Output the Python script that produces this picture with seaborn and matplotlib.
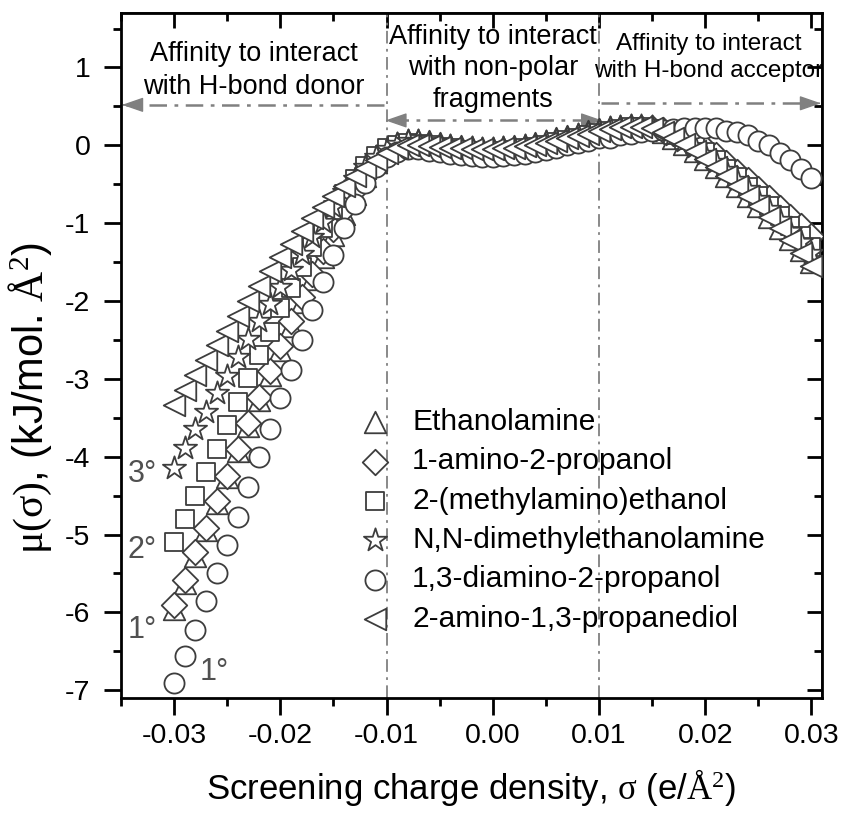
import numpy as np
import pandas as pd
import matplotlib
matplotlib.use("Agg")
import matplotlib.pyplot as plt
import seaborn as sns
from matplotlib import font_manager
from matplotlib.ticker import MultipleLocator, FormatStrFormatter

# screening charge density grid (e/A^2)
sigma = np.round(np.linspace(-0.030, 0.030, 61), 3)

# sigma potentials, kJ/(mol A^2)
ethanolamine = [
    -5.96, -5.62, -5.28, -4.94, -4.60, -4.26, -3.93, -3.60, -3.27, -2.95,
    -2.63, -2.32, -2.01, -1.72, -1.43, -1.15, -0.88, -0.63, -0.40, -0.21,
    -0.07, 0.03, 0.07, 0.07, 0.05, 0.03, 0.01, -0.01, -0.02, -0.03,
    -0.03, -0.02, -0.01, 0.01, 0.03, 0.06, 0.09, 0.12, 0.15, 0.18, 0.21,
    0.23, 0.25, 0.26, 0.25, 0.22, 0.17, 0.10, 0.02, -0.07, -0.17,
    -0.28, -0.40, -0.52, -0.65, -0.78, -0.92, -1.06, -1.20, -1.35, -1.50]
amino_propanol = [
    -5.90, -5.58, -5.23, -4.91, -4.57, -4.25, -3.90, -3.57, -3.23, -2.90,
    -2.58, -2.26, -1.95, -1.65, -1.36, -1.08, -0.82, -0.58, -0.37, -0.20,
    -0.08, -0.02, 0.00, -0.01, -0.03, -0.05, -0.07, -0.09, -0.10, -0.11,
    -0.11, -0.10, -0.09, -0.07, -0.05, -0.02, 0.01, 0.04, 0.07, 0.10, 0.13,
    0.16, 0.19, 0.21, 0.22, 0.22, 0.20, 0.16, 0.11, 0.04, -0.04,
    -0.13, -0.23, -0.34, -0.45, -0.56, -0.68, -0.80, -0.92, -1.04, -1.16]
methylamino_ethanol = [
    -5.10, -4.80, -4.51, -4.20, -3.90, -3.59, -3.30, -2.99, -2.69, -2.40,
    -2.09, -1.83, -1.56, -1.30, -1.06, -0.83, -0.62, -0.43, -0.27, -0.14,
    -0.04, 0.01, 0.03, 0.02, 0.00, -0.02, -0.04, -0.06, -0.07, -0.08,
    -0.08, -0.07, -0.06, -0.04, -0.02, 0.01, 0.04, 0.07, 0.10, 0.13, 0.16,
    0.19, 0.21, 0.23, 0.23, 0.21, 0.18, 0.13, 0.07, 0.00, -0.09,
    -0.19, -0.30, -0.41, -0.53, -0.65, -0.78, -0.91, -1.04, -1.17, -1.30]
dimethylethanolamine = [
    -4.14, -3.89, -3.65, -3.42, -3.18, -2.96, -2.72, -2.49, -2.26, -2.04,
    -1.82, -1.60, -1.39, -1.18, -0.98, -0.79, -0.60, -0.43, -0.28, -0.15,
    -0.05, 0.02, 0.05, 0.05, 0.03, 0.01, -0.01, -0.03, -0.04, -0.05,
    -0.05, -0.04, -0.03, -0.01, 0.01, 0.04, 0.07, 0.10, 0.13, 0.16, 0.19,
    0.22, 0.24, 0.25, 0.25, 0.23, 0.19, 0.13, 0.06, -0.02, -0.11,
    -0.21, -0.32, -0.44, -0.56, -0.69, -0.82, -0.96, -1.10, -1.24, -1.38]
diamino_propanol = [
    -6.91, -6.56, -6.22, -5.86, -5.50, -5.14, -4.77, -4.39, -4.01, -3.64,
    -3.24, -2.88, -2.50, -2.12, -1.75, -1.41, -1.06, -0.75, -0.48, -0.28,
    -0.15, -0.08, -0.05, -0.05, -0.07, -0.09, -0.11, -0.13, -0.14, -0.15,
    -0.15, -0.14, -0.13, -0.11, -0.09, -0.06, -0.03, 0.00, 0.03, 0.06, 0.09,
    0.10, 0.13, 0.15, 0.17, 0.19, 0.20, 0.21, 0.22, 0.22, 0.22,
    0.22, 0.19, 0.17, 0.13, 0.06, 0.00, -0.10, -0.19, -0.30, -0.42]
amino_propanediol = [
    -3.33, -3.14, -2.95, -2.76, -2.57, -2.38, -2.19, -2.00, -1.81, -1.62,
    -1.44, -1.27, -1.10, -0.94, -0.79, -0.65, -0.52, -0.40, -0.29, -0.19,
    -0.10, -0.03, 0.00, 0.00, -0.01, -0.02, -0.03, -0.04, -0.05, -0.05,
    -0.05, -0.04, -0.03, -0.01, 0.01, 0.03, 0.06, 0.09, 0.12, 0.15, 0.18,
    0.21, 0.23, 0.24, 0.24, 0.22, 0.17, 0.10, 0.02, -0.07, -0.17,
    -0.28, -0.40, -0.52, -0.65, -0.78, -0.92, -1.06, -1.21, -1.38, -1.55]

names = ["Ethanolamine", "1-amino-2-propanol", "2-(methylamino)ethanol",
         "N,N-dimethylethanolamine", "1,3-diamino-2-propanol",
         "2-amino-1,3-propanediol"]
values = [ethanolamine, amino_propanol, methylamino_ethanol,
          dimethylethanolamine, diamino_propanol, amino_propanediol]
markers = ["^", "D", "s", "*", "o", "<"]
msizes = [15.5, 13.0, 13.5, 17.5, 14.5, 15.5]   # marker size in points

regions = ["Affinity to interact\nwith H-bond donor",
           "Affinity to interact\nwith non-polar\nfragments",
           "Affinity to interact\nwith H-bond acceptor"]
amine_degree = ["3°", "2°", "1°", "1°"]

sns.set_theme(style="ticks")
avail = {f.name for f in font_manager.fontManager.ttflist}
narrow = "Liberation Sans Narrow" if "Liberation Sans Narrow" in avail else "Liberation Sans"
plt.rcParams["font.family"] = [narrow, "DejaVu Sans"]
plt.rcParams["axes.unicode_minus"] = False
plt.rcParams["mathtext.fontset"] = "custom"
plt.rcParams["mathtext.rm"] = "Liberation Serif"
plt.rcParams["mathtext.it"] = "Liberation Serif:italic"
for key in ("text.color", "axes.labelcolor", "xtick.color", "ytick.color",
            "xtick.labelcolor", "ytick.labelcolor"):
    plt.rcParams[key] = "black"

fig, ax = plt.subplots(figsize=(8.47, 8.16), dpi=100)
fig.subplots_adjust(left=121 / 847, right=822 / 847, bottom=1 - 698 / 816, top=1 - 13 / 816)

edge = "#3d3d3d"
for name, vals, m, ms in zip(names, values, markers, msizes):
    df = pd.DataFrame({"sigma": sigma, "mu": vals})
    sns.scatterplot(data=df, x="sigma", y="mu", marker=m, s=ms ** 2,
                    color="white", edgecolor=edge, linewidth=1.3,
                    label=name, ax=ax, zorder=3, legend=True)

ax.set_xlim(-0.035, 0.031)
ax.set_ylim(-7.1, 1.7)

gray = "#808080"
dashdot = (0, (7, 3, 1.5, 3))
for xv in (-0.01, 0.01):
    ax.axvline(xv, color=gray, lw=1.3, ls=dashdot, zorder=1)

# region arrows
def arrow_line(x0, x1, y, heads):
    ax.plot([x0, x1], [y, y], color=gray, lw=1.8, ls=dashdot, zorder=2)
    for tip, back in heads:
        ax.annotate("", xy=(tip, y), xytext=(back, y),
                    arrowprops=dict(arrowstyle="-|>,head_length=1.1,head_width=0.38",
                                    color=gray, lw=1, shrinkA=0, shrinkB=0),
                    zorder=2)

arrow_line(-0.0102, -0.0345, 0.52, [(-0.0349, -0.0347)])
arrow_line(0.0102, 0.0305, 0.54, [(0.0309, 0.0307)])
arrow_line(-0.0096, 0.0096, 0.32, [(-0.0101, -0.0099), (0.0103, 0.0101)])

ax.text(-0.02248, 0.96, regions[0], ha="center", va="center", fontsize=19.5, linespacing=1.35)
ax.text(0.0000, 0.99, regions[1], ha="center", va="center", fontsize=19.5, linespacing=1.27)
ax.text(0.0203, 1.13, regions[2], ha="center", va="center", fontsize=17.5, linespacing=1.3)

deg_pos = [(-0.0330, -4.22), (-0.0330, -5.20), (-0.0330, -6.22), (-0.0262, -6.76)]
for t, (xp, yp) in zip(amine_degree, deg_pos):
    ax.text(xp, yp, t, ha="center", va="center", fontsize=22, color="#505050")

ax.xaxis.set_major_locator(MultipleLocator(0.01))
ax.xaxis.set_minor_locator(MultipleLocator(0.005))
ax.xaxis.set_major_formatter(FormatStrFormatter("%.2f"))
ax.yaxis.set_major_locator(MultipleLocator(1))
ax.yaxis.set_minor_locator(MultipleLocator(0.5))
ax.tick_params(which="major", direction="out", length=12, width=2, labelsize=20.5, pad=6)
ax.tick_params(which="minor", direction="out", length=6, width=2)
ax.tick_params(axis="y", which="major", pad=10)
for sp in ax.spines.values():
    sp.set_linewidth(2)
    sp.set_color("black")

top = ax.secondary_xaxis("top")
top.xaxis.set_major_locator(MultipleLocator(0.01))
top.xaxis.set_minor_locator(MultipleLocator(0.005))
top.tick_params(which="major", direction="in", length=11, width=2, labeltop=False)
top.tick_params(which="minor", direction="in", length=6, width=2)
right = ax.secondary_yaxis("right")
right.yaxis.set_major_locator(MultipleLocator(1))
right.yaxis.set_minor_locator(MultipleLocator(0.5))
right.tick_params(which="major", direction="in", length=11, width=2, labelright=False)
right.tick_params(which="minor", direction="in", length=6, width=2)

ax.set_xlabel("Screening charge density, $\\mathrm{\\sigma}$ (e/$\\mathrm{Å}^{2}$)", fontsize=25)
ax.set_ylabel("$\\mathrm{\\mu(\\sigma)}$, (kJ/mol. $\\mathrm{Å}^{2}$)", fontsize=30)
ax.xaxis.set_label_coords(0.5, -0.10)
ax.yaxis.set_label_coords(-0.095, 0.438)

leg = ax.legend(loc="upper left", bbox_to_anchor=(0.313, 0.445), frameon=False,
                fontsize=21.5, handletextpad=0.6, labelspacing=0.38,
                borderpad=0, handlelength=1.3)
for t in leg.get_texts():
    t.set_family(["Liberation Sans", "DejaVu Sans"])

fig.savefig("out.png", dpi=100)
